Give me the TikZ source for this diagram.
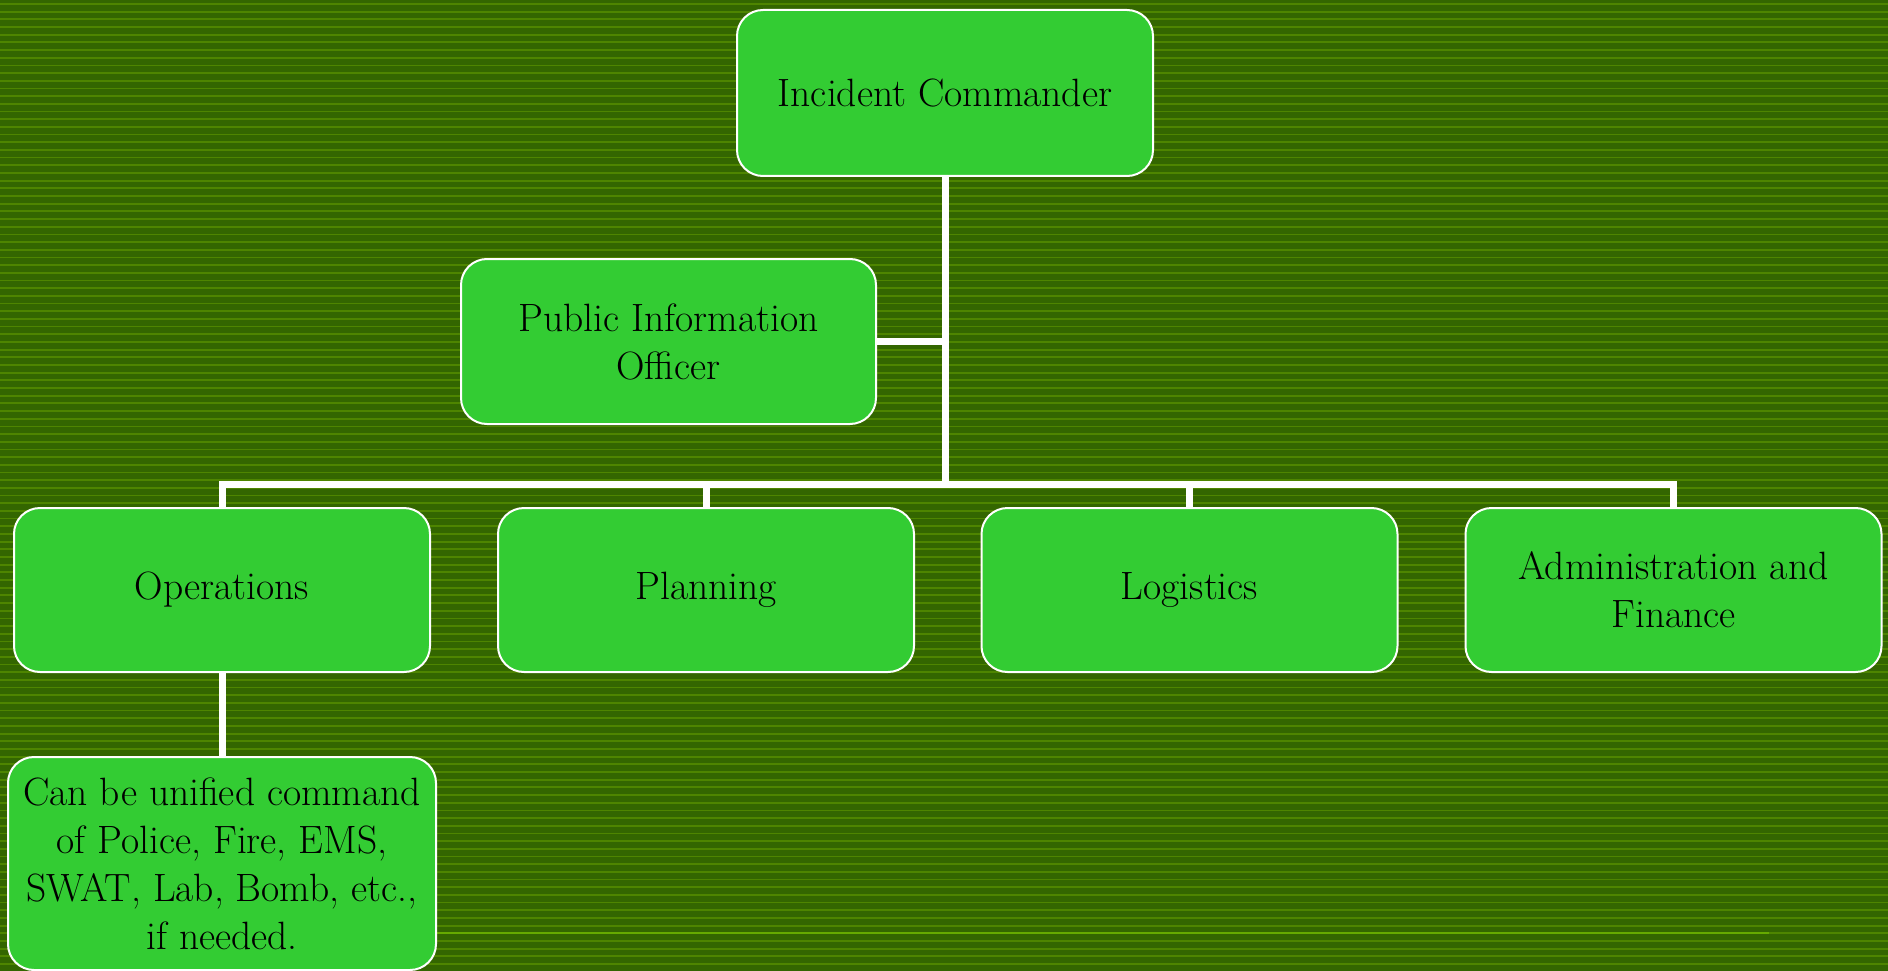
\documentclass[tikz,border=0pt]{standalone}
\definecolor{ICScolBG}{HTML}{336600}
\definecolor{ICScolLN}{HTML}{4E8500}
\definecolor{ICScolRL}{HTML}{66AA00}
\definecolor{ICScolBX}{HTML}{33CC33}
\usepackage{tikz}

\tikzset{
  icsbox/.style={draw=white, fill=ICScolBX, line width=2pt, rounded corners=26pt,
    align=center, font=\fontsize{39.5}{48}\selectfont, text=black, inner sep=0pt},
  icslink/.style={draw=white, line width=7pt, line cap=butt, line join=miter}
}

\begin{document}
\begin{tikzpicture}[y=1pt, x=1pt, yscale=-1, xscale=1]
  \path[fill=ICScolBG] (0,0) rectangle (1888,971);
  \useasboundingbox (0,0) rectangle (1888,971);
  \foreach \k in {0,...,126}
    \path[draw=ICScolLN, line width=1.8pt] (0,{4+7.68*\k}) -- (1888,{4+7.68*\k});
  \path[draw=ICScolRL, line width=1.6pt] (434,933.2) -- (1769,933.2);

  \node[icsbox, minimum width=416pt, minimum height=166pt] (ic) at (945,93) {Incident Commander};
  \node[icsbox, minimum width=415pt, minimum height=165pt] (pio) at (668.5,341.5) {Public Information\\Officer};
  \node[icsbox, minimum width=416pt, minimum height=164pt] (ops) at (222,590) {Operations};
  \node[icsbox, minimum width=416pt, minimum height=164pt] (plan) at (706,590) {Planning};
  \node[icsbox, minimum width=416pt, minimum height=164pt] (logi) at (1189.5,590) {Logistics};
  \node[icsbox, minimum width=416pt, minimum height=164pt] (admin) at (1673.5,590) {Administration and\\Finance};
  \node[icsbox, minimum width=428pt, minimum height=213pt] (unified) at (222,863.5)
    {Can be unified command\\of Police, Fire, EMS,\\SWAT, Lab, Bomb, etc.,\\if needed.};

  \coordinate (bus) at (945,484);
  \path[icslink] (ic.south) -- (bus);
  \path[icslink] (pio.east) -- (pio.east -| bus);
  \path[icslink] (ops.north) |- (bus) -| (admin.north);
  \path[icslink] (plan.north) -- (plan.north |- bus);
  \path[icslink] (logi.north) -- (logi.north |- bus);
  \path[icslink] (ops.south) -- (unified.north);
\end{tikzpicture}
\end{document}
